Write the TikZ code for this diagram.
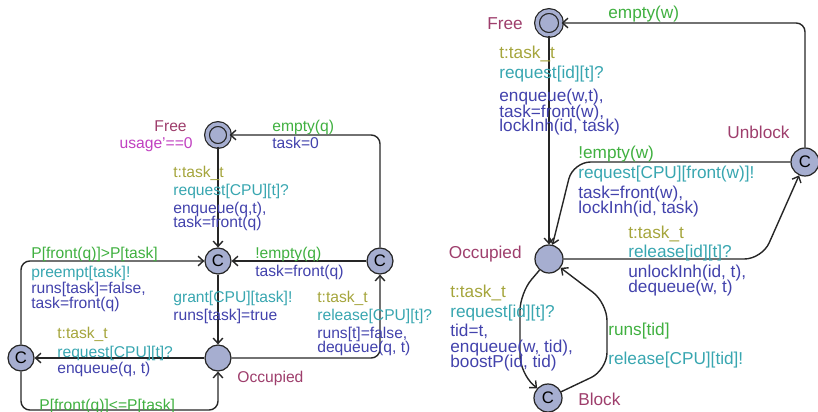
\documentclass[tikz,border=0pt]{standalone}
\usepackage{fontspec}
\setmainfont{Liberation Sans}
\usetikzlibrary{arrows.meta}

\definecolor{locfill}{RGB}{166,174,208}
\definecolor{namecol}{RGB}{158,62,108}
\definecolor{invcol}{RGB}{192,64,192}
\definecolor{selcol}{RGB}{165,165,60}
\definecolor{grdcol}{RGB}{64,176,64}
\definecolor{syncol}{RGB}{56,166,176}
\definecolor{updcol}{RGB}{66,66,172}

\tikzset{
  loc/.style={circle,draw=black!85,fill=locfill,line width=0.7pt,minimum size=0.52cm,inner sep=0pt},
  initloc/.style={loc,minimum size=0.44cm,double=locfill,double distance=2pt},
  cloc/.style={loc,font=\fontsize{9.5}{10}\selectfont},
  edge/.style={draw=black!85,line width=0.8pt,rounded corners=5pt,-{Straight Barb[length=3pt,width=5.5pt]}},
  lbl/.style={anchor=base west,inner sep=0pt,font=\fontsize{8.9}{9}\selectfont},
  rlbl/.style={anchor=base west,inner sep=0pt,font=\fontsize{9.8}{10}\selectfont},
  nm/.style={text=namecol},
  inv/.style={text=invcol},
  sel/.style={text=selcol},
  grd/.style={text=grdcol},
  syn/.style={text=syncol},
  upd/.style={text=updcol}
}

\begin{document}
\begin{tikzpicture}[x=0.02cm,y=-0.02cm]
    \useasboundingbox (0,0) rectangle (818,412);

    % CPU scheduler (left)
    \node[initloc] (lfree) at (218,135) {};
    \node[cloc] (lmid) at (218,261) {C};
    \node[cloc] (lrc) at (380,261) {C};
    \node[loc] (locc) at (218,358) {};
    \node[cloc] (llc) at (21,358) {C};
    \coordinate (lbot) at (21,410);

    \node[lbl,nm,anchor=base east] (lfreename) at (187,132) {Free};
    \node[lbl,inv,anchor=base east] (lfreeinv) at (193,149) {usage'==0};
    \node[lbl,nm] (loccname) at (237,382) {Occupied};

    \draw[edge] (lfree) -- (lmid);
    \draw[edge] (lrc) |- (lfree);
    \draw[edge] (lrc) -- (lmid);
    \draw[edge] (lmid) -- (locc);
    \draw[edge] (locc) -| (lrc);
    \draw[edge] (locc) -- (llc);
    \draw[edge] (llc) |- (lmid);
    \draw[edge] (llc) -- (lbot) -| (locc);

    \node[lbl,sel] (lreqsel) at (173,177) {t:task\_t};
    \node[lbl,syn] (lreqsyn) at (173,195) {request[CPU][t]?};
    \node[lbl,upd] (lrequpd) at (173,213) {enqueue(q,t),};
    \node[lbl,upd] (lrequpdb) at (173,227) {task=front(q)};

    \node[lbl,grd] (lempgrd) at (272,132) {empty(q)};
    \node[lbl,upd] (lempupd) at (272,149) {task=0};

    \node[lbl,grd] (lnemgrd) at (255,258) {!empty(q)};
    \node[lbl,upd] (lnemupd) at (255,276) {task=front(q)};

    \node[lbl,syn] (lgrasyn) at (173,302) {grant[CPU][task]!};
    \node[lbl,upd] (lgraupd) at (173,320) {runs[task]=true};

    \node[lbl,sel] (lrelsel) at (317,302) {t:task\_t};
    \node[lbl,syn] (lrelsyn) at (317,320) {release[CPU][t]?};
    \node[lbl,upd] (lrelupd) at (317,338) {runs[t]=false,};
    \node[lbl,upd] (lrelupdb) at (317,352) {dequeue(q, t)};

    \node[lbl,sel] (lqsel) at (57,338) {t:task\_t};
    \node[lbl,syn] (lqsyn) at (57,357) {request[CPU][t]?};
    \node[lbl,upd] (lqupd) at (57,373) {enqueue(q, t)};

    \node[lbl,grd] (lpregrd) at (31,258) {P[front(q)]>P[task]};
    \node[lbl,syn] (lpresyn) at (31,277) {preempt[task]!};
    \node[lbl,upd] (lpreupd) at (31,293) {runs[task]=false,};
    \node[lbl,upd] (lpreupdb) at (31,308) {task=front(q)};

    \node[lbl,grd] (lkeepgrd) at (39,410) {P[front(q)]<=P[task]};

    % Resource with inheritance (right)
    \node[initloc,minimum size=0.48cm] (rfree) at (549,23) {};
    \node[cloc,minimum size=0.56cm] (runb) at (805,162) {C};
    \node[loc,minimum size=0.56cm] (rocc) at (549,259) {};
    \node[cloc,minimum size=0.56cm] (rblk) at (548,398) {C};
    \coordinate (rtop) at (573,162);
    \coordinate (rlow) at (762,259);
    \coordinate (rb1) at (520,293);
    \coordinate (rb2) at (520,373);
    \coordinate (rb3) at (607,370);
    \coordinate (rb4) at (607,303);

    \node[rlbl,nm,anchor=base east] (rfreename) at (523,30) {Free};
    \node[rlbl,nm] (runbname) at (727,138) {Unblock};
    \node[rlbl,nm,anchor=base east] (roccname) at (522,258) {Occupied};
    \node[rlbl,nm] (rblkname) at (578,405) {Block};

    \draw[edge] (rfree) -- (rocc);
    \draw[edge] (runb) |- (rfree);
    \draw[edge,rounded corners=10pt] (runb) -- (rtop) -- (rocc);
    \draw[edge,rounded corners=10pt] (rocc) -- (rlow) -- (runb);
    \draw[edge,rounded corners=10pt] (rocc) -- (rb1) -- (rb2) -- (rblk);
    \draw[edge,rounded corners=10pt] (rblk) -- (rb3) -- (rb4) -- (rocc);

    \node[rlbl,sel] (rreqsel) at (499,59) {t:task\_t};
    \node[rlbl,syn] (rreqsyn) at (499,79) {request[id][t]?};
    \node[rlbl,upd] (rrequpd) at (499,102) {enqueue(w,t),};
    \node[rlbl,upd] (rrequpdb) at (499,117) {task=front(w),};
    \node[rlbl,upd] (rrequpdc) at (499,132) {lockInh(id, task)};

    \node[rlbl,grd] (rempgrd) at (608,19) {empty(w)};

    \node[rlbl,grd] (rnemgrd) at (578,158) {!empty(w)};
    \node[rlbl,syn] (rnemsyn) at (578,178) {request[CPU][front(w)]!};
    \node[rlbl,upd] (rnemupd) at (578,198) {task=front(w),};
    \node[rlbl,upd] (rnemupdb) at (578,213) {lockInh(id, task)};

    \node[rlbl,sel] (rrelsel) at (628,238) {t:task\_t};
    \node[rlbl,syn] (rrelsyn) at (628,257) {release[id][t]?};
    \node[rlbl,upd] (rrelupd) at (628,277) {unlockInh(id, t),};
    \node[rlbl,upd] (rrelupdb) at (628,292) {dequeue(w, t)};

    \node[rlbl,sel] (rblksel) at (450,297) {t:task\_t};
    \node[rlbl,syn] (rblksyn) at (450,317) {request[id][t]?};
    \node[rlbl,upd] (rblkupd) at (450,336) {tid=t,};
    \node[rlbl,upd] (rblkupdb) at (450,352) {enqueue(w, tid),};
    \node[rlbl,upd] (rblkupdc) at (450,367) {boostP(id, tid)};

    \node[rlbl,grd] (rrungrd) at (608,335) {runs[tid]};
    \node[rlbl,syn] (rrunsyn) at (608,364) {release[CPU][tid]!};
\end{tikzpicture}
\end{document}
